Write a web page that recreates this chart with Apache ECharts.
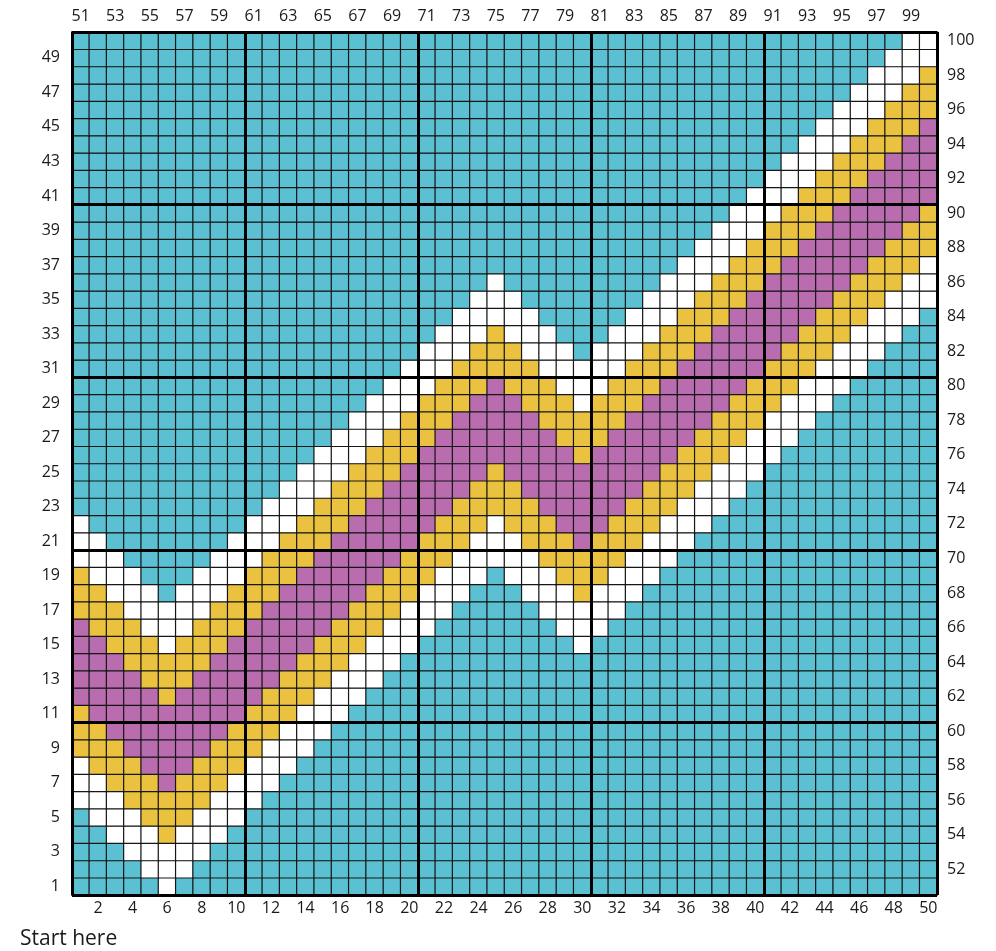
<!DOCTYPE html>
<html>
<head>
<meta charset="utf-8">
<script src="https://cdn.jsdelivr.net/npm/echarts@6/dist/echarts.min.js"></script>
<style>
html,body{margin:0;padding:0;background:#ffffff;}
#chart{width:996px;height:951px;}
</style>
</head>
<body>
<div id="chart"></div>
<script>
// Colour keys used in the pattern rows
const colorKeys = ['T', 'W', 'Y', 'P'];
const colorValues = ['#5bc0d2', '#ffffff', '#ebc240', '#b96cae'];

// Pattern, read row by row: first string = row 1 (bottom), last = row 50 (top).
// Each string = columns 1..50 left to right (spaces every 10 cells only for readability).
const rowsBottomToTop = [
  'TTTTTWTTTT TTTTTTTTTT TTTTTTTTTT TTTTTTTTTT TTTTTTTTTT', // 1
  'TTTTWWWTTT TTTTTTTTTT TTTTTTTTTT TTTTTTTTTT TTTTTTTTTT', // 2
  'TTTWWWWWTT TTTTTTTTTT TTTTTTTTTT TTTTTTTTTT TTTTTTTTTT', // 3
  'TTWWWYWWWT TTTTTTTTTT TTTTTTTTTT TTTTTTTTTT TTTTTTTTTT', // 4
  'TWWWYYYWWW TTTTTTTTTT TTTTTTTTTT TTTTTTTTTT TTTTTTTTTT', // 5
  'WWWYYYYYWW WTTTTTTTTT TTTTTTTTTT TTTTTTTTTT TTTTTTTTTT', // 6
  'WWYYYPYYYW WWTTTTTTTT TTTTTTTTTT TTTTTTTTTT TTTTTTTTTT', // 7
  'WYYYPPPYYY WWWTTTTTTT TTTTTTTTTT TTTTTTTTTT TTTTTTTTTT', // 8
  'YYYPPPPPYY YWWWTTTTTT TTTTTTTTTT TTTTTTTTTT TTTTTTTTTT', // 9
  'YYPPPPPPPY YYWWWTTTTT TTTTTTTTTT TTTTTTTTTT TTTTTTTTTT', // 10
  'YPPPPPPPPP YYYWWWTTTT TTTTTTTTTT TTTTTTTTTT TTTTTTTTTT', // 11
  'PPPPPYPPPP PYYYWWWTTT TTTTTTTTTT TTTTTTTTTT TTTTTTTTTT', // 12
  'PPPPYYYPPP PPYYYWWWTT TTTTTTTTTT TTTTTTTTTT TTTTTTTTTT', // 13
  'PPPYYYYYPP PPPYYYWWWT TTTTTTTTTT TTTTTTTTTT TTTTTTTTTT', // 14
  'PPYYYWYYYP PPPPYYYWWW TTTTTTTTTW TTTTTTTTTT TTTTTTTTTT', // 15
  'PYYYWWWYYY PPPPPYYYWW WTTTTTTTWW WTTTTTTTTT TTTTTTTTTT', // 16
  'YYYWWWWWYY YPPPPPYYYW WWTTTTTWWW WWTTTTTTTT TTTTTTTTTT', // 17
  'YYWWWTWWWY YYPPPPPYYY WWWTTTWWWY WWWTTTTTTT TTTTTTTTTT', // 18
  'YWWWTTTWWW YYYPPPPPYY YWWWTWWWYY YWWWTTTTTT TTTTTTTTTT', // 19
  'WWWTTTTTWW WYYYPPPPPY YYWWWWWYYY YYWWWTTTTT TTTTTTTTTT', // 20
  'WWTTTTTTTW WWYYYPPPPP YYYWWWYYYP YYYWWWTTTT TTTTTTTTTT', // 21
  'WTTTTTTTTT WWWYYYPPPP PYYYWYYYPP PYYYWWWTTT TTTTTTTTTT', // 22
  'TTTTTTTTTT TWWWYYYPPP PPYYYYYPPP PPYYYWWWTT TTTTTTTTTT', // 23
  'TTTTTTTTTT TTWWWYYYPP PPPYYYPPPP PPPYYYWWWT TTTTTTTTTT', // 24
  'TTTTTTTTTT TTTWWWYYYP PPPPYPPPPP PPPPYYYWWW TTTTTTTTTT', // 25
  'TTTTTTTTTT TTTTWWWYYY PPPPPPPPPY PPPPPYYYWW WTTTTTTTTT', // 26
  'TTTTTTTTTT TTTTTWWWYY YPPPPPPPYY YPPPPPYYYW WWTTTTTTTT', // 27
  'TTTTTTTTTT TTTTTTWWWY YYPPPPPYYY YYPPPPPYYY WWWTTTTTTT', // 28
  'TTTTTTTTTT TTTTTTTWWW YYYPPPYYYW YYYPPPPPYY YWWWTTTTTT', // 29
  'TTTTTTTTTT TTTTTTTTWW WYYYPYYYWW WYYYPPPPPY YYWWWTTTTT', // 30
  'TTTTTTTTTT TTTTTTTTTW WWYYYYYWWW WWYYYPPPPP YYYWWWTTTT', // 31
  'TTTTTTTTTT TTTTTTTTTT WWWYYYWWWT WWWYYYPPPP PYYYWWWTTT', // 32
  'TTTTTTTTTT TTTTTTTTTT TWWWYWWWTT TWWWYYYPPP PPYYYWWWTT', // 33
  'TTTTTTTTTT TTTTTTTTTT TTWWWWWTTT TTWWWYYYPP PPPYYYWWWT', // 34
  'TTTTTTTTTT TTTTTTTTTT TTTWWWTTTT TTTWWWYYYP PPPPYYYWWW', // 35
  'TTTTTTTTTT TTTTTTTTTT TTTTWTTTTT TTTTWWWYYY PPPPPYYYWW', // 36
  'TTTTTTTTTT TTTTTTTTTT TTTTTTTTTT TTTTTWWWYY YPPPPPYYYW', // 37
  'TTTTTTTTTT TTTTTTTTTT TTTTTTTTTT TTTTTTWWWY YYPPPPPYYY', // 38
  'TTTTTTTTTT TTTTTTTTTT TTTTTTTTTT TTTTTTTWWW YYYPPPPPYY', // 39
  'TTTTTTTTTT TTTTTTTTTT TTTTTTTTTT TTTTTTTTWW WYYYPPPPPY', // 40
  'TTTTTTTTTT TTTTTTTTTT TTTTTTTTTT TTTTTTTTTW WWYYYPPPPP', // 41
  'TTTTTTTTTT TTTTTTTTTT TTTTTTTTTT TTTTTTTTTT WWWYYYPPPP', // 42
  'TTTTTTTTTT TTTTTTTTTT TTTTTTTTTT TTTTTTTTTT TWWWYYYPPP', // 43
  'TTTTTTTTTT TTTTTTTTTT TTTTTTTTTT TTTTTTTTTT TTWWWYYYPP', // 44
  'TTTTTTTTTT TTTTTTTTTT TTTTTTTTTT TTTTTTTTTT TTTWWWYYYP', // 45
  'TTTTTTTTTT TTTTTTTTTT TTTTTTTTTT TTTTTTTTTT TTTTWWWYYY', // 46
  'TTTTTTTTTT TTTTTTTTTT TTTTTTTTTT TTTTTTTTTT TTTTTWWWYY', // 47
  'TTTTTTTTTT TTTTTTTTTT TTTTTTTTTT TTTTTTTTTT TTTTTTWWWY', // 48
  'TTTTTTTTTT TTTTTTTTTT TTTTTTTTTT TTTTTTTTTT TTTTTTTWWW', // 49
  'TTTTTTTTTT TTTTTTTTTT TTTTTTTTTT TTTTTTTTTT TTTTTTTTWW'  // 50
];

const columns = ['1','2','3','4','5','6','7','8','9','10','11','12','13','14','15','16','17','18','19','20','21','22','23','24','25','26','27','28','29','30','31','32','33','34','35','36','37','38','39','40','41','42','43','44','45','46','47','48','49','50'];
const rowNames = ['1','2','3','4','5','6','7','8','9','10','11','12','13','14','15','16','17','18','19','20','21','22','23','24','25','26','27','28','29','30','31','32','33','34','35','36','37','38','39','40','41','42','43','44','45','46','47','48','49','50'];

const bottomTicks = ['','2','','4','','6','','8','','10','','12','','14','','16','','18','','20','','22','','24','','26','','28','','30','','32','','34','','36','','38','','40','','42','','44','','46','','48','','50'];
const topTicks = ['51','','53','','55','','57','','59','','61','','63','','65','','67','','69','','71','','73','','75','','77','','79','','81','','83','','85','','87','','89','','91','','93','','95','','97','','99',''];
const leftTicks = ['1','','3','','5','','7','','9','','11','','13','','15','','17','','19','','21','','23','','25','','27','','29','','31','','33','','35','','37','','39','','41','','43','','45','','47','','49',''];
const rightTicks = ['','52','','54','','56','','58','','60','','62','','64','','66','','68','','70','','72','','74','','76','','78','','80','','82','','84','','86','','88','','90','','92','','94','','96','','98','','100'];

const startText = 'Start here';

// Build heatmap data from the rows
const cells = [];
rowsBottomToTop.forEach(function (rowStr, r) {
  const s = rowStr.replace(/ /g, '');
  for (let c = 0; c < s.length; c++) {
    cells.push([c, r, colorKeys.indexOf(s[c])]);
  }
});

const FONT = '"Open Sans", "Noto Sans", sans-serif';
const labelStyle = { color: '#1a1a1a', fontSize: 16, fontFamily: FONT, interval: 0 };
const gridRect = { left: 72, top: 32, right: 59, bottom: 56 };

const chart = echarts.init(document.getElementById('chart'), null, { renderer: 'canvas' });
chart.setOption({
  animation: false,
  backgroundColor: '#ffffff',
  grid: [
    Object.assign({ containLabel: false }, gridRect),
    Object.assign({ containLabel: false }, gridRect)
  ],
  xAxis: [
    { type: 'category', gridIndex: 0, position: 'bottom', data: columns,
      axisLine: { show: false }, axisTick: { show: false }, splitLine: { show: false },
      axisLabel: Object.assign({ margin: 5, formatter: function (v, i) { return bottomTicks[i]; } }, labelStyle) },
    { type: 'category', gridIndex: 0, position: 'top', data: columns,
      axisLine: { show: false }, axisTick: { show: false }, splitLine: { show: false },
      axisLabel: Object.assign({ margin: 8, formatter: function (v, i) { return topTicks[i]; } }, labelStyle) },
    { type: 'value', gridIndex: 1, min: 0, max: 50, interval: 10, z: 10,
      axisLine: { show: false }, axisTick: { show: false }, axisLabel: { show: false },
      splitLine: { show: true, lineStyle: { color: '#000000', width: 3 } } }
  ],
  yAxis: [
    { type: 'category', gridIndex: 0, position: 'left', data: rowNames,
      axisLine: { show: false }, axisTick: { show: false }, splitLine: { show: false },
      axisLabel: Object.assign({ margin: 12, formatter: function (v, i) { return leftTicks[i]; } }, labelStyle) },
    { type: 'category', gridIndex: 0, position: 'right', data: rowNames,
      axisLine: { show: false }, axisTick: { show: false }, splitLine: { show: false },
      axisLabel: Object.assign({ margin: 10, formatter: function (v, i) { return rightTicks[i]; } }, labelStyle) },
    { type: 'value', gridIndex: 1, min: 0, max: 50, interval: 10, z: 10,
      axisLine: { show: false }, axisTick: { show: false }, axisLabel: { show: false },
      splitLine: { show: true, lineStyle: { color: '#000000', width: 3 } } }
  ],
  visualMap: {
    type: 'piecewise', show: false, dimension: 2, seriesIndex: 0,
    pieces: colorKeys.map(function (k, i) { return { value: i, color: colorValues[i] }; })
  },
  series: [{
    type: 'heatmap',
    xAxisIndex: 0,
    yAxisIndex: 0,
    data: cells,
    progressive: 0,
    itemStyle: { borderColor: '#161616', borderWidth: 1.2 },
    emphasis: { disabled: true }
  }],
  graphic: [{
    type: 'text', left: 20, top: 929,
    style: { text: startText, font: '21px ' + FONT, fill: '#1a1a1a' }
  }]
});
</script>
</body>
</html>
